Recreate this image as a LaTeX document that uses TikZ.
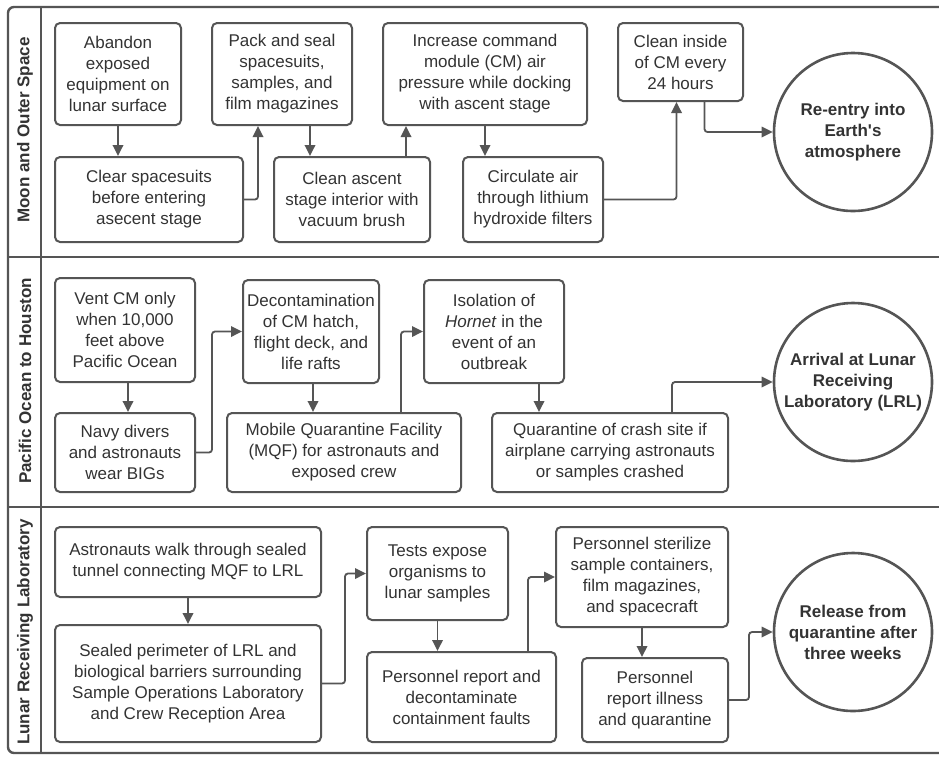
\documentclass[tikz,border=0pt]{standalone}
\usepackage{fontspec}
\setmainfont{Liberation Sans}
\setsansfont{Liberation Sans}
\usepackage{xcolor}
\usepackage{tikz}
\usetikzlibrary{arrows.meta,positioning,calc}

\definecolor{linegray}{HTML}{555555}
\definecolor{textgray}{HTML}{333333}

\begin{document}
\begin{tikzpicture}[
  x=1pt,y=-1pt,
  every node/.style={font=\fontsize{17}{21}\selectfont\sffamily,text=textgray,align=center},
  box/.style={rectangle,draw=linegray,line width=2pt,rounded corners=5pt,fill=white,inner sep=2pt},
  goal/.style={circle,draw=linegray,line width=2.6pt,fill=white,minimum size=158pt,inner sep=0pt,font=\fontsize{17}{21}\selectfont\sffamily\bfseries},
  lane/.style={rotate=90,font=\fontsize{17}{21}\selectfont\sffamily\bfseries},
  frame/.style={draw=linegray,line width=2.4pt},
  arr/.style={-{Triangle[length=11pt,width=10.5pt]},draw=linegray,line width=1.8pt,rounded corners=3pt},
]
\useasboundingbox (0,0) rectangle (939,756);
\clip (0,0) rectangle (939,756);
\fill[white] (0,0) rectangle (939,756);

\draw[frame,rounded corners=6pt] (8,7) rectangle (960,753);
\draw[frame] (41,7) -- (41,753);
\draw[frame] (8,257) -- (939,257);
\draw[frame] (8,507) -- (939,507);

\node[lane] (moonlane) at (25,130) {Moon and Outer Space};
\node[lane] (pacificlane) at (25,381) {Pacific Ocean to Houston};
\node[lane] (lrllane) at (25,632) {Lunar Receiving Laboratory};

\node[box,minimum width=126pt,minimum height=102pt] (abandon) at (118,74) {Abandon\\exposed\\equipment on\\lunar surface};
\node[box,minimum width=188pt,minimum height=85pt] (clearsuits) at (149,199.5) {Clear spacesuits\\before entering\\asecent stage};
\node[box,minimum width=140pt,minimum height=102pt] (packseal) at (282,74) {Pack and seal\\spacesuits,\\samples, and\\film magazines};
\node[box,minimum width=156pt,minimum height=85pt] (cleanascent) at (352,199.5) {Clean ascent\\stage interior with\\vacuum brush};
\node[box,minimum width=204pt,minimum height=102pt] (pressure) at (485,74) {Increase command\\module (CM) air\\pressure while docking\\with ascent stage};
\node[box,minimum width=140pt,minimum height=85pt] (circulate) at (533,199.5) {Circulate air\\through lithium\\hydroxide filters};
\node[box,minimum width=125pt,minimum height=78pt] (cleancm) at (680.5,62) {Clean inside\\of CM every\\24 hours};
\node[goal] (reentry) at (853,132) {Re-entry into\\Earth\textquotesingle s\\atmosphere};

\draw[arr] (abandon.south) -- (abandon.south |- clearsuits.north);
\draw[arr] (clearsuits.east) -| ([xshift=-24pt]packseal.south);
\draw[arr] ([xshift=28pt]packseal.south) -- ([xshift=28pt]packseal.south |- cleanascent.north);
\draw[arr] ([xshift=54pt]cleanascent.north) -- ([xshift=54pt]cleanascent.north |- pressure.south);
\draw[arr] (pressure.south) -- (pressure.south |- circulate.north);
\draw[arr] (circulate.east) -| ([xshift=-4pt]cleancm.south);
\draw[arr] ([xshift=24pt]cleancm.south) |- (reentry.west);

\node[box,minimum width=140pt,minimum height=104pt] (vent) at (125,330) {Vent CM only\\when 10,000\\feet above\\Pacific Ocean};
\node[box,minimum width=140pt,minimum height=79pt] (divers) at (125,452.5) {Navy divers\\and astronauts\\wear BIGs};
\node[box,minimum width=136pt,minimum height=103pt] (decon) at (311,331.5) {Decontamination\\of CM hatch,\\flight deck, and\\life rafts};
\node[box,minimum width=234pt,minimum height=79pt] (mqf) at (344,452.5) {Mobile Quarantine Facility\\(MQF) for astronauts and\\exposed crew};
\node[box,minimum width=140pt,minimum height=103pt] (hornet) at (494,331.5) {Isolation of\\\textit{Hornet} in the\\event of an\\outbreak};
\node[box,minimum width=236pt,minimum height=79pt] (crashsite) at (610,452.5) {Quarantine of crash site if\\airplane carrying astronauts\\or samples crashed};
\node[goal] (arrival) at (853,382) {Arrival at Lunar\\Receiving\\Laboratory (LRL)};

\draw[arr] ([xshift=3pt]vent.south) -- ([xshift=3pt]vent.south |- divers.north);
\draw[arr] (divers.east) -- ++(16,0) |- (decon.west);
\draw[arr] ([xshift=2pt]decon.south) -- ([xshift=2pt]decon.south |- mqf.north);
\draw[arr] ([xshift=57pt]mqf.north) |- (hornet.west);
\draw[arr] ([xshift=45pt]hornet.south) -- ([xshift=45pt]hornet.south |- crashsite.north);
\draw[arr] ([xshift=62pt]crashsite.north) |- (arrival.west);

\node[box,minimum width=266pt,minimum height=70pt] (tunnel) at (188,562) {Astronauts walk through sealed\\tunnel connecting MQF to LRL};
\node[box,minimum width=266pt,minimum height=117pt] (perimeter) at (188,683.5) {Sealed perimeter of LRL and\\biological barriers surrounding\\Sample Operations Laboratory\\and Crew Reception Area};
\node[box,minimum width=141pt,minimum height=93pt] (tests) at (437.5,573.5) {Tests expose\\organisms to\\lunar samples};
\node[box,minimum width=189pt,minimum height=90pt] (faults) at (461.5,697) {Personnel report and\\decontaminate\\containment faults};
\node[box,minimum width=172pt,minimum height=100pt] (sterilize) at (642,577) {Personnel sterilize\\sample containers,\\film magazines,\\and spacecraft};
\node[box,minimum width=146pt,minimum height=84pt] (illness) at (655,700) {Personnel\\report illness\\and quarantine};
\node[goal] (release) at (853,632) {Release from\\quarantine after\\three weeks};

\draw[arr] (tunnel.south) -- (perimeter.north);
\draw[arr] (perimeter.east) -- ++(23,0) |- (tests.west);
\draw[arr] (tests.south) -- (tests.south |- faults.north);
\draw[arr] ([xshift=66.5pt]faults.north) |- (sterilize.west);
\draw[arr] (sterilize.south) -- (sterilize.south |- illness.north);
\draw[arr] (illness.east) -- ++(20,0) |- (release.west);
\end{tikzpicture}
\end{document}
